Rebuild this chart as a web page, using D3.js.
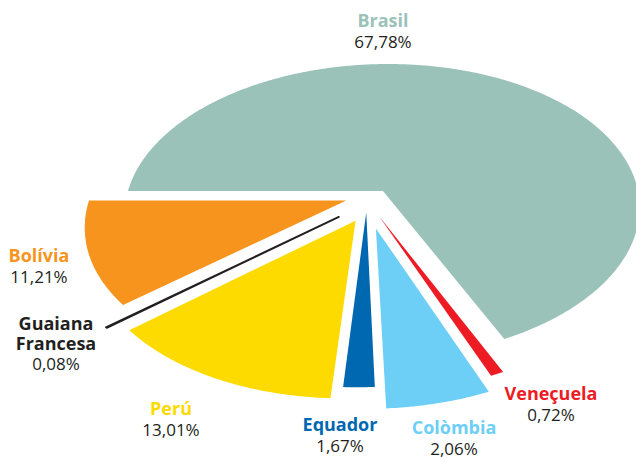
<!DOCTYPE html>
<html>
<head>
<meta charset="utf-8">
<script src="https://cdn.jsdelivr.net/npm/d3@7"></script>
<style>
  body { margin: 0; background: #fff; }
  svg { display: block; font-family: "Open Sans", sans-serif; }
</style>
</head>
<body>
<div class="chart"></div>
<script>
const countries = ["Brasil", "Veneçuela", "Colòmbia", "Equador", "Perú", "Guaiana Francesa", "Bolívia"];
const shares = [67.78, 0.72, 2.06, 1.67, 13.01, 0.08, 11.21];
const colors = ["#9bc2b9", "#ed1c24", "#6dcff6", "#0067b1", "#fedb00", "#231f20", "#f7941d"];

// printed shares only add up to 96,53 % -- in the original the rest
// ends up inside the Colòmbia wedge, so draw it there too
const missing = 100 - d3.sum(shares);

const width = 636, height = 458;

// tilted disc: centre, radii, perspective and a small horizontal skew
const cx = 383, cy = 191, rx = 255, ry = 144.4, persp = -0.137, skew = -6;
const project = ([u, v]) => {
  const d = 1 + persp * v;
  return [cx + (rx * u + skew * v) / d, cy + ry * v / d];
};

// how far each wedge is pulled out (unit-disc coords) and label anchors
const explode = {
  "Brasil": [0, 0], "Veneçuela": [-0.011, 0.171], "Colòmbia": [-0.021, 0.25],
  "Equador": [-0.061, 0.146], "Perú": [-0.10, 0.20],
  "Guaiana Francesa": [-0.165, 0.175], "Bolívia": [-0.141, 0.065]
};
const labelAt = {
  "Brasil": [383, 27], "Veneçuela": [551, 400], "Colòmbia": [454, 434],
  "Equador": [340, 431], "Perú": [171, 415],
  "Guaiana Francesa": [56, 330], "Bolívia": [39, 262]
};

const data = countries.map((name, i) => ({
  name, share: shares[i], color: colors[i],
  drawn: shares[i] + (name === "Colòmbia" ? missing : 0)
}));

const pie = d3.pie()
  .sort(null)
  .value(d => d.drawn)
  .startAngle(-Math.PI / 2)
  .endAngle(1.5 * Math.PI);

const arcs = pie(data);

const line = d3.line().curve(d3.curveLinearClosed);

function wedge(a) {
  const [du, dv] = explode[a.data.name];
  const r = a.data.name === "Guaiana Francesa" ? 1.02 : 1;
  const n = Math.max(2, Math.ceil((a.endAngle - a.startAngle) / 0.01));
  const pts = [[du, dv]];
  d3.range(n + 1).forEach(k => {
    const t = a.startAngle + (a.endAngle - a.startAngle) * k / n;
    pts.push([du + r * Math.sin(t), dv - r * Math.cos(t)]);
  });
  return line(pts.map(project));
}

const fmt = d3.formatLocale({decimal: ",", thousands: ".", grouping: [3], currency: ["", ""]}).format(".2f");

const svg = d3.select(".chart").append("svg")
  .attr("width", width)
  .attr("height", height);

svg.append("g")
  .selectAll("path")
  .data(arcs)
  .join("path")
    .attr("d", wedge)
    .attr("fill", d => d.data.color)
    .attr("stroke", d => d.data.name === "Guaiana Francesa" ? d.data.color : "none")
    .attr("stroke-width", 1.8)
    .attr("stroke-linejoin", "round");

// one text element per printed line
const rows = [];
data.forEach(d => {
  const [x, y] = labelAt[d.name];
  const words = d.name === "Guaiana Francesa" ? d.name.split(" ") : [d.name];
  words.forEach((w, i) => rows.push({x, y: y + i * 19.5, text: w, bold: true, color: d.color}));
  rows.push({x, y: y + (words.length - 1) * 19.5 + 20.5, text: fmt(d.share) + "%", bold: false, color: "#231f20"});
});

svg.append("g")
  .attr("text-anchor", "middle")
  .selectAll("text")
  .data(rows)
  .join("text")
    .attr("x", d => d.x)
    .attr("y", d => d.y)
    .attr("font-weight", d => d.bold ? 700 : 400)
    .attr("font-size", d => d.bold ? 18 : 17)
    .attr("fill", d => d.color)
    .text(d => d.text);
</script>
</body>
</html>
